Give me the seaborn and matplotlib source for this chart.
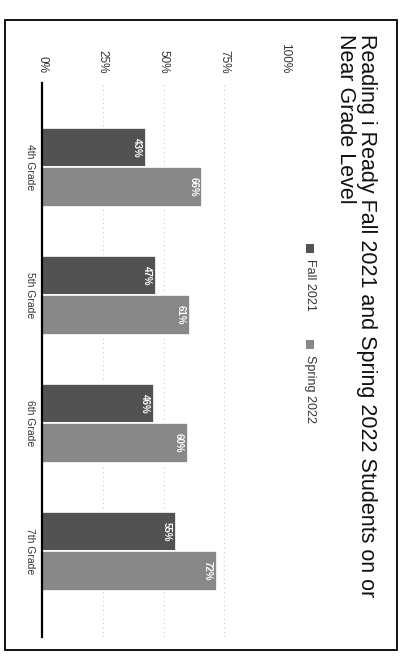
import matplotlib
matplotlib.use("Agg")
import matplotlib.pyplot as plt
from matplotlib.patches import Rectangle
import pandas as pd
import seaborn as sns

grades = ["4th Grade", "5th Grade", "6th Grade", "7th Grade"]
fall_2021 = [43, 47, 46, 55]
spring_2022 = [66, 61, 60, 72]
series_names = ["Fall 2021", "Spring 2022"]
tick_values = [0, 25, 50, 75, 100]
tick_labels = ["0%", "25%", "50%", "75%", "100%"]
title = "Reading i Ready Fall 2021 and Spring 2022 Students on or\nNear Grade Level"


def build_frame():
    rows = []
    for g, f, s in zip(grades, fall_2021, spring_2022):
        rows.append({"grade": g, "term": series_names[0], "pct": f})
        rows.append({"grade": g, "term": series_names[1], "pct": s})
    return pd.DataFrame(rows)


def render_plot(df, output_path):
    sns.set_style("white")
    plt.rcParams["font.family"] = ["Liberation Sans", "DejaVu Sans"]

    W, H = 409, 666
    fig = plt.figure(figsize=(W / 100, H / 100), dpi=100)
    fig.patch.set_facecolor("white")

    # whole chart is drawn rotated a quarter turn, as in the scan
    ax = fig.add_axes([42 / W, 1 - 637 / H, 243 / W, (637 - 83) / H])
    palette = {"Fall 2021": "#525252", "Spring 2022": "#888888"}
    sns.barplot(data=df, x="pct", y="grade", hue="term", orient="h",
                palette=palette, width=0.62, edgecolor="white", linewidth=1.2,
                legend=False, ax=ax)

    ax.set_xlim(0, 100)
    ax.set_ylim(3.67, -0.66)
    ax.set_xlabel("")
    ax.set_ylabel("")

    ax.xaxis.tick_top()
    ax.set_xticks(tick_values)
    ax.set_xticklabels(tick_labels, rotation=-90, fontsize=8.5, color="#333333")
    ax.tick_params(axis="x", length=0, pad=7)
    ax.set_yticks(range(len(grades)))
    ax.set_yticklabels(grades, rotation=-90, va="center", fontsize=7.5, color="#333333")
    ax.tick_params(axis="y", length=0, pad=5)

    ax.grid(axis="x", color="#c8c8c8", linestyle=(0, (1, 3)), linewidth=0.8)
    ax.set_axisbelow(True)
    for side in ["top", "right", "bottom"]:
        ax.spines[side].set_visible(False)
    ax.spines["left"].set_color("black")
    ax.spines["left"].set_linewidth(1.6)

    for container, values in zip(ax.containers, [fall_2021, spring_2022]):
        texts = ax.bar_label(container, labels=[f"{v}%" for v in values],
                             padding=-3, rotation=-90, color="white",
                             fontsize=7, fontweight="bold")
        for t in texts:
            t.set_ha("right")
            t.set_va("center")

    # title, reading top to bottom
    fig.text(356 / W, 1 - 34 / H, title, rotation=-90, ha="center", va="top",
             multialignment="left", fontsize=15.5, linespacing=1.05,
             color="#111111")

    # legend
    legend_items = [(series_names[0], palette["Fall 2021"], 244),
                    (series_names[1], palette["Spring 2022"], 340)]
    for name, color, ytop in legend_items:
        fig.add_artist(Rectangle((306 / W, 1 - (ytop + 9) / H), 8 / W, 9 / H,
                                 transform=fig.transFigure, facecolor=color,
                                 edgecolor="none"))
        fig.text(310 / W, 1 - (ytop + 15) / H, name, rotation=-90, ha="center",
                 va="top", fontsize=9, color="#333333")

    # frame around the printed chart
    fig.add_artist(Rectangle((5 / W, 1 - 650 / H), 392 / W, 630 / H,
                             transform=fig.transFigure, facecolor="none",
                             edgecolor="black", linewidth=1.3))

    fig.savefig(output_path, dpi=100, facecolor="white")


def main():
    df = build_frame()
    render_plot(df, "out.png")


if __name__ == "__main__":
    main()
